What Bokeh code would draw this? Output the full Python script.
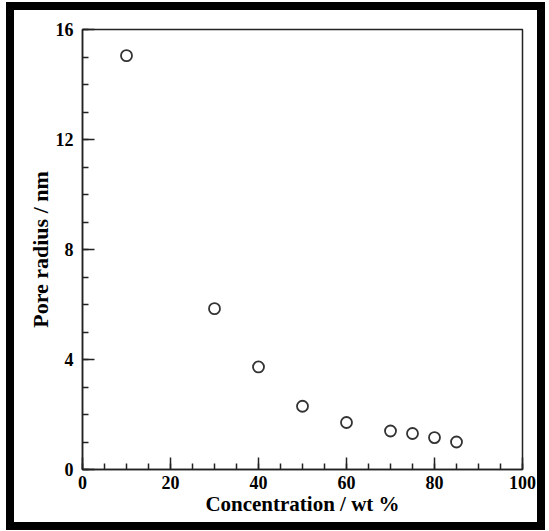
from bokeh.plotting import figure
from bokeh.embed import file_html
from bokeh.resources import INLINE
from bokeh.models import FixedTicker, Range1d

# Data
conc = [10, 30, 40, 50, 60, 70, 75, 80, 85]
radius = [15.05, 5.85, 3.73, 2.30, 1.71, 1.40, 1.31, 1.16, 1.00]
x_ticks = [0, 20, 40, 60, 80, 100]
x_minor = list(range(0, 101, 5))
y_ticks = [0, 4, 8, 12, 16]
y_minor = list(range(0, 17))

FONT = "Liberation Serif"

p = figure(width=523, height=512, output_backend="svg", toolbar_location=None,
           x_range=Range1d(0, 100), y_range=Range1d(0, 16),
           min_border_left=68, min_border_right=15, min_border_top=19, min_border_bottom=53,
           margin=(2, 0, 0, 6))
p.frame_width = 440
p.frame_height = 440
p.styles = {"border": "8px solid black", "box-sizing": "content-box"}

p.grid.visible = False
p.background_fill_color = "white"
p.border_fill_color = "white"
p.outline_line_color = "#222222"
p.outline_line_width = 1.5

p.scatter(conc, radius, marker="circle", size=11, fill_color="white",
          line_color="#333333", line_width=1.8)

for ax, ticks, minor in ((p.xaxis[0], x_ticks, x_minor), (p.yaxis[0], y_ticks, y_minor)):
    ax.ticker = FixedTicker(ticks=ticks, minor_ticks=minor)
    ax.major_tick_in = 12
    ax.major_tick_out = 0
    ax.minor_tick_in = 6
    ax.minor_tick_out = 0
    ax.axis_line_width = 1.5
    ax.axis_line_color = "#222222"
    ax.major_tick_line_width = 1.5
    ax.minor_tick_line_width = 1.5
    ax.major_tick_line_color = "#222222"
    ax.minor_tick_line_color = "#222222"
    ax.major_label_text_font = FONT
    ax.major_label_text_font_style = "bold"
    ax.major_label_text_font_size = "18px"
    ax.major_label_text_color = "black"
    ax.axis_label_text_font = FONT
    ax.axis_label_text_font_style = "bold"
    ax.axis_label_text_color = "black"

p.xaxis.axis_label = "Concentration / wt %"
p.yaxis.axis_label = "Pore radius / nm"
p.xaxis.axis_label_text_font_size = "21px"
p.yaxis.axis_label_text_font_size = "22px"
p.xaxis.major_label_standoff = 6
p.yaxis.major_label_standoff = 9
p.xaxis.axis_label_standoff = 0
p.yaxis.axis_label_standoff = 0

open("out.html", "w").write(file_html(p, INLINE))
